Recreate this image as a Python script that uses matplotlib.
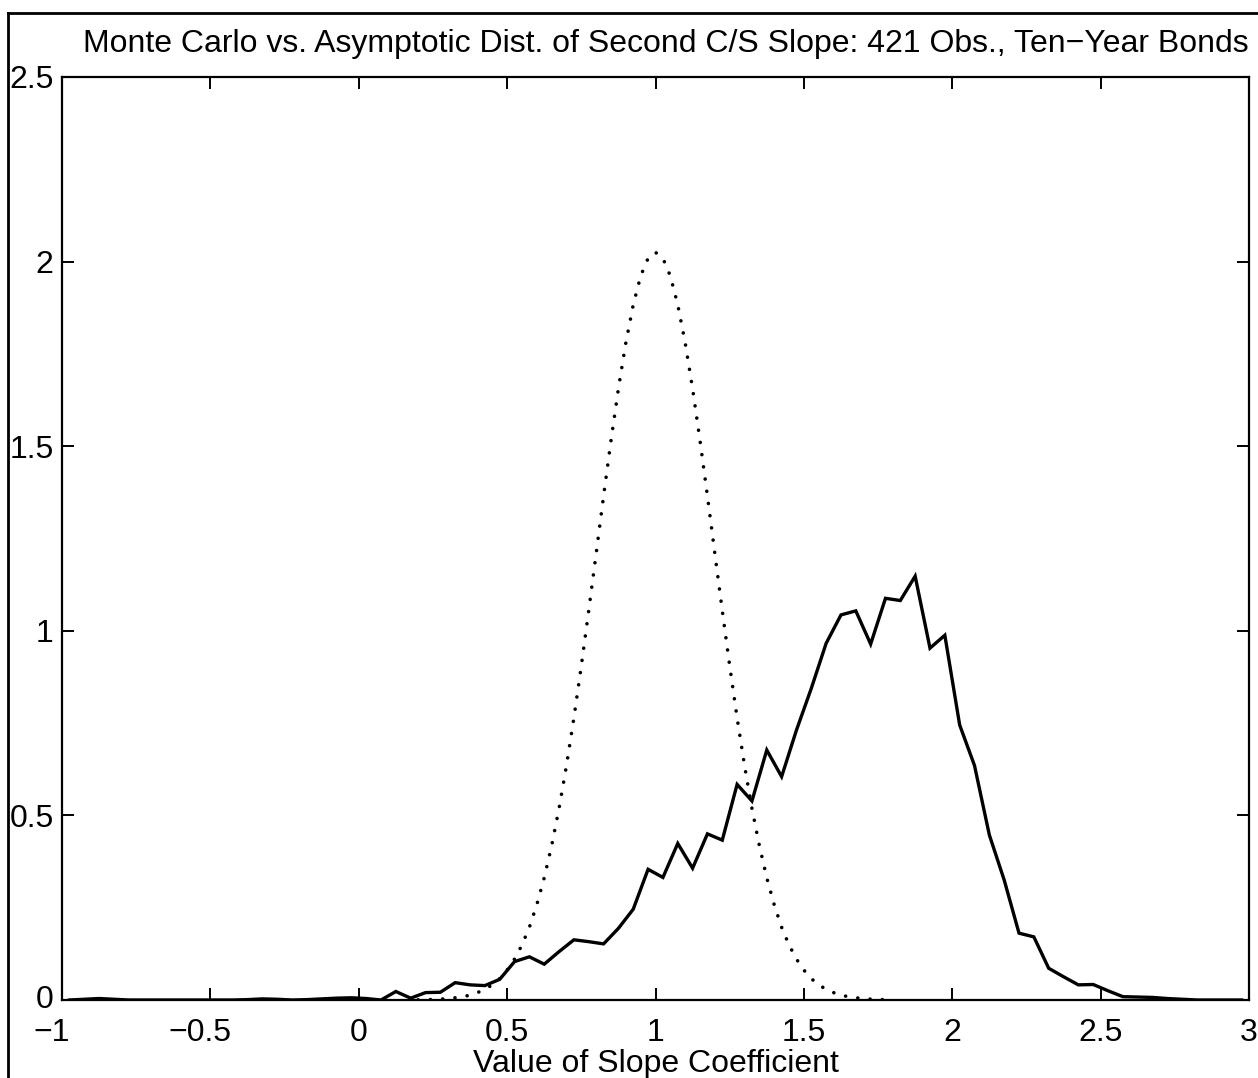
import matplotlib
matplotlib.use("Agg")
import matplotlib.pyplot as plt
from matplotlib.lines import Line2D
from matplotlib.transforms import ScaledTranslation
import numpy as np

plt.rcParams['font.family'] = ['Liberation Sans', 'DejaVu Sans']

# Monte Carlo density (bin centres every 0.05 from -0.975 to 2.975)
mc_x = np.linspace(-0.975, 2.975, 80)
mc_y = [0, 0.002, 0.004, 0.002, 0, 0, 0, 0, 0, 0,
        0, 0, 0.001, 0.003, 0.002, 0, 0.001, 0.003, 0.005, 0.006,
        0.004, 0, 0.023, 0.005, 0.020, 0.021, 0.047, 0.041, 0.039, 0.056,
        0.104, 0.117, 0.097, 0.131, 0.163, 0.158, 0.152, 0.194, 0.246, 0.354,
        0.332, 0.424, 0.357, 0.450, 0.433, 0.584, 0.539, 0.677, 0.605, 0.731,
        0.844, 0.966, 1.043, 1.054, 0.964, 1.088, 1.082, 1.148, 0.953, 0.988,
        0.745, 0.635, 0.447, 0.325, 0.181, 0.171, 0.086, 0.063, 0.041, 0.042,
        0.025, 0.009, 0.008, 0.007, 0.004, 0.002, 0, 0, 0, 0]

# asymptotic density, read every 0.025 from 0.2 to 1.8
asy_x = np.linspace(0.2, 1.8, 65)
asy_y = [0.0005, 0.0009, 0.0014, 0.0023, 0.004, 0.006, 0.009, 0.013, 0.020, 0.029,
         0.041, 0.058, 0.081, 0.111, 0.149, 0.197, 0.258, 0.331, 0.418, 0.519,
         0.635, 0.764, 0.905, 1.055, 1.209, 1.365, 1.515, 1.656, 1.780, 1.883,
         1.961, 2.009, 2.025, 2.009, 1.961, 1.883, 1.780, 1.656, 1.515, 1.365,
         1.209, 1.055, 0.905, 0.764, 0.635, 0.519, 0.418, 0.331, 0.258, 0.197,
         0.149, 0.111, 0.081, 0.058, 0.041, 0.029, 0.020, 0.013, 0.009, 0.006,
         0.004, 0.0023, 0.0014, 0.0009, 0.0005]

xticks = [-1, -0.5, 0, 0.5, 1, 1.5, 2, 2.5, 3]
xtick_labels = ["\u22121", "\u22120.5", "0", "0.5", "1", "1.5", "2", "2.5", "3"]
yticks = [0, 0.5, 1, 1.5, 2, 2.5]
ytick_labels = ["0", "0.5", "1", "1.5", "2", "2.5"]

W, H = 1258, 1078
fs = 23.0
fig = plt.figure(figsize=(W / 100, H / 100), dpi=100)
ax = fig.add_axes([62 / W, 78 / H, (1249 - 62) / W, (1000 - 77) / H])

ax.plot(asy_x, asy_y, color="k", linewidth=2.6,
        linestyle=(0, (0.01, 3.4)), dash_capstyle="round")
ax.plot(mc_x, mc_y, color="k", linewidth=2.4, solid_joinstyle="miter")

ax.set_xlim(-1, 3)
ax.set_ylim(0, 2.5)
ax.set_xticks(xticks)
ax.set_xticklabels(xtick_labels)
ax.set_yticks(yticks)
ax.set_yticklabels(ytick_labels)
ax.tick_params(direction="in", top=True, right=True, length=8.5, width=1.4,
               labelsize=fs)
ax.tick_params(axis="x", pad=13)
ax.tick_params(axis="y", pad=6)
for s in ax.spines.values():
    s.set_linewidth(1.6)

# negative labels sit a little left of their ticks in the original
for lab in ax.get_xticklabels()[:2]:
    lab.set_transform(lab.get_transform() + ScaledTranslation(-0.1, 0, fig.dpi_scale_trans))
ylab0 = ax.get_yticklabels()[0]
ylab0.set_transform(ylab0.get_transform() + ScaledTranslation(0, 0.03, fig.dpi_scale_trans))

ax.set_xlabel("Value of Slope Coefficient", fontsize=fs, labelpad=1)
fig.text(666 / W, 1 - 52 / H,
         "Monte Carlo vs. Asymptotic Dist. of Second C/S Slope: 421 Obs., Ten\u2212Year Bonds",
         fontsize=fs, ha="center", va="baseline")

# outer frame (left and top edges visible)
fig.add_artist(Line2D([8 / W, 8 / W], [0, 1 - 13 / H], color="k", linewidth=2,
                      transform=fig.transFigure))
fig.add_artist(Line2D([8 / W, 1], [1 - 13 / H, 1 - 13 / H], color="k", linewidth=2,
                      transform=fig.transFigure))

fig.savefig("out.png", dpi=100)
